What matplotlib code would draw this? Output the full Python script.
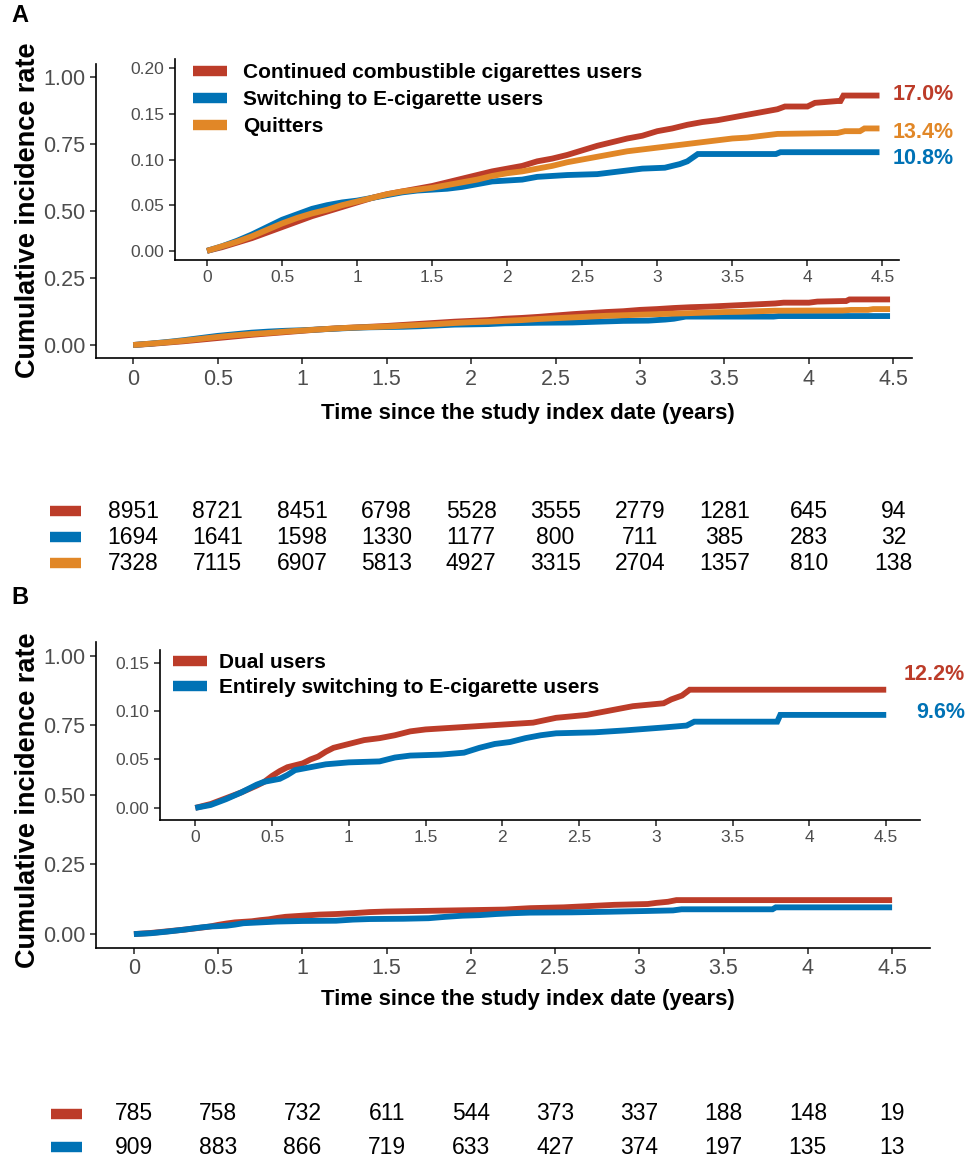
import numpy as np
import matplotlib
matplotlib.use("Agg")
import matplotlib.pyplot as plt
from matplotlib.lines import Line2D

plt.rcParams['font.family'] = ['Liberation Sans', 'DejaVu Sans']

# colours (NEJM-like palette)
RED = "#BC3C29"
BLUE = "#0072B5"
ORANGE = "#E18727"

# ---- panel A data (cumulative incidence) ----
a_cont_t = [0, 0.1, 0.2, 0.3, 0.4, 0.5, 0.6, 0.7, 0.8, 0.9, 1.0, 1.1, 1.2, 1.3, 1.4,
            1.5, 1.6, 1.7, 1.8, 1.9, 2.0, 2.1, 2.2, 2.3, 2.4, 2.5, 2.6, 2.7, 2.8, 2.9,
            3.0, 3.1, 3.2, 3.3, 3.4, 3.5, 3.6, 3.7, 3.8, 3.85, 4.0, 4.05, 4.2, 4.22,
            4.24, 4.48]
a_cont_v = [0, 0.004, 0.009, 0.014, 0.020, 0.026, 0.032, 0.038, 0.043, 0.048, 0.053,
            0.058, 0.062, 0.065, 0.068, 0.071, 0.075, 0.079, 0.083, 0.087, 0.090,
            0.093, 0.098, 0.101, 0.105, 0.110, 0.115, 0.119, 0.123, 0.126, 0.131,
            0.134, 0.138, 0.141, 0.143, 0.146, 0.149, 0.152, 0.155, 0.158, 0.158,
            0.162, 0.164, 0.164, 0.170, 0.170]

a_quit_t = [0, 0.1, 0.2, 0.3, 0.4, 0.5, 0.6, 0.7, 0.8, 0.9, 1.0, 1.1, 1.2, 1.3, 1.4,
            1.5, 1.6, 1.7, 1.8, 1.9, 2.0, 2.1, 2.2, 2.3, 2.4, 2.5, 2.6, 2.7, 2.8, 2.9,
            3.0, 3.1, 3.2, 3.3, 3.4, 3.5, 3.6, 3.7, 3.8, 4.2, 4.25, 4.35, 4.38, 4.48]
a_quit_v = [0, 0.005, 0.010, 0.016, 0.023, 0.030, 0.036, 0.041, 0.045, 0.050, 0.054,
            0.058, 0.062, 0.065, 0.067, 0.069, 0.072, 0.075, 0.078, 0.082, 0.085,
            0.087, 0.090, 0.093, 0.097, 0.100, 0.103, 0.106, 0.109, 0.111, 0.113,
            0.115, 0.117, 0.119, 0.121, 0.123, 0.124, 0.126, 0.128, 0.129, 0.131,
            0.131, 0.134, 0.134]

a_switch_t = [0, 0.1, 0.2, 0.3, 0.4, 0.5, 0.6, 0.7, 0.8, 0.9, 1.0, 1.1, 1.2, 1.3, 1.4,
              1.5, 1.6, 1.7, 1.8, 1.9, 2.0, 2.1, 2.2, 2.4, 2.6, 2.8, 2.9, 3.05, 3.15,
              3.2, 3.27, 3.79, 3.82, 4.48]
a_switch_v = [0, 0.005, 0.011, 0.018, 0.026, 0.034, 0.040, 0.046, 0.050, 0.053, 0.055,
              0.058, 0.061, 0.064, 0.066, 0.067, 0.068, 0.070, 0.073, 0.076, 0.077,
              0.078, 0.081, 0.083, 0.084, 0.088, 0.090, 0.091, 0.095, 0.098, 0.106,
              0.106, 0.108, 0.108]

a_labels = ["Continued combustible cigarettes users", "Switching to E-cigarette users", "Quitters"]
a_pct = ["17.0%", "13.4%", "10.8%"]

# number at risk, panel A
risk_times = [0, 0.5, 1, 1.5, 2, 2.5, 3, 3.5, 4, 4.5]
a_risk_cont = [8951, 8721, 8451, 6798, 5528, 3555, 2779, 1281, 645, 94]
a_risk_switch = [1694, 1641, 1598, 1330, 1177, 800, 711, 385, 283, 32]
a_risk_quit = [7328, 7115, 6907, 5813, 4927, 3315, 2704, 1357, 810, 138]

# ---- panel B data ----
b_dual_t = [0, 0.05, 0.1, 0.2, 0.3, 0.4, 0.45, 0.5, 0.55, 0.6, 0.7, 0.75, 0.8, 0.85, 0.9,
            1.0, 1.1, 1.2, 1.3, 1.4, 1.5, 1.7, 1.9, 2.0, 2.2, 2.35, 2.55, 2.65, 2.75,
            2.85, 3.05, 3.1, 3.17, 3.22, 4.5]
b_dual_v = [0, 0.002, 0.004, 0.010, 0.016, 0.023, 0.027, 0.033, 0.038, 0.042, 0.046,
            0.050, 0.053, 0.058, 0.062, 0.066, 0.070, 0.072, 0.075, 0.079, 0.081, 0.083,
            0.085, 0.086, 0.088, 0.093, 0.096, 0.099, 0.102, 0.105, 0.108, 0.112,
            0.116, 0.122, 0.122]

b_entire_t = [0, 0.1, 0.2, 0.3, 0.4, 0.45, 0.55, 0.6, 0.65, 0.75, 0.85, 1.0, 1.2, 1.3,
              1.4, 1.6, 1.75, 1.85, 1.95, 2.05, 2.15, 2.25, 2.35, 2.6, 2.8, 3.05, 3.2,
              3.25, 3.79, 3.81, 4.5]
b_entire_v = [0, 0.003, 0.009, 0.016, 0.024, 0.027, 0.030, 0.034, 0.039, 0.042, 0.045,
              0.047, 0.048, 0.052, 0.054, 0.055, 0.057, 0.062, 0.066, 0.068, 0.072,
              0.075, 0.077, 0.078, 0.080, 0.083, 0.085, 0.089, 0.089, 0.096, 0.096]

b_labels = ["Dual users", "Entirely switching to E-cigarette users"]
b_pct = ["12.2%", "9.6%"]

b_risk_dual = [785, 758, 732, 611, 544, 373, 337, 188, 148, 19]
b_risk_entire = [909, 883, 866, 719, 633, 427, 374, 197, 135, 13]

x_ticks = [0, 0.5, 1, 1.5, 2, 2.5, 3, 3.5, 4, 4.5]
x_ticklabels = ["0", "0.5", "1", "1.5", "2", "2.5", "3", "3.5", "4", "4.5"]

W, H = 967, 1164
fig = plt.figure(figsize=(W / 100, H / 100), dpi=100)


def box(left, right, top, bottom):
    # pixel box -> figure fraction rect
    return [left / W, 1 - bottom / H, (right - left) / W, (bottom - top) / H]


def style_axes(ax, fs):
    for s in ["top", "right"]:
        ax.spines[s].set_visible(False)
    for s in ["left", "bottom"]:
        ax.spines[s].set_linewidth(1.2)
    ax.tick_params(length=4, width=1.1, labelsize=fs, labelcolor="#4D4D4D", color="#222222")
    ax.set_xticks(x_ticks)
    ax.set_xticklabels(x_ticklabels)


def draw_curves(ax, series, lw):
    for t, v, c in series:
        ax.plot(t, v, color=c, lw=lw, solid_joinstyle="miter", solid_capstyle="butt")


# ================= Panel A =================
axA = fig.add_axes(box(96, 912, 63.6, 358.4))
seriesA = [(a_cont_t, a_cont_v, RED), (a_switch_t, a_switch_v, BLUE), (a_quit_t, a_quit_v, ORANGE)]
draw_curves(axA, seriesA, 4.2)
axA.set_xlim(-0.22, 4.61)
axA.set_ylim(-0.05, 1.05)
axA.set_yticks([0, 0.25, 0.5, 0.75, 1.0])
axA.set_yticklabels(["0.00", "0.25", "0.50", "0.75", "1.00"])
style_axes(axA, 15.5)

insA = fig.add_axes(box(175, 899, 59, 260))
draw_curves(insA, seriesA, 4.2)
insA.set_xlim(-0.213, 4.61)
insA.set_ylim(-0.01, 0.21)
insA.set_yticks([0, 0.05, 0.10, 0.15, 0.20])
insA.set_yticklabels(["0.00", "0.05", "0.10", "0.15", "0.20"])
style_axes(insA, 12.5)
insA.patch.set_alpha(0)

handlesA = [Line2D([], [], color=c, lw=7.5, solid_capstyle="butt") for c in (RED, BLUE, ORANGE)]
fig.legend(handlesA, a_labels, loc="upper left", bbox_to_anchor=(193 / W, 1 - 63 / H),
           frameon=False, borderpad=0, borderaxespad=0, handlelength=1.65,
           handletextpad=0.75, labelspacing=0.38, prop={"weight": "bold", "size": 15})

for txt, c, yp in zip(a_pct, (RED, ORANGE, BLUE), (95, 132, 158)):
    fig.text(893 / W, 1 - yp / H, txt, color=c, fontsize=15.5, fontweight="bold",
             ha="left", va="center")

fig.text(20 / W, 1 - 15 / H, "A", fontsize=17, fontweight="bold", ha="center", va="center")
fig.text(28 / W, 1 - 210 / H, "Cumulative incidence rate", rotation=90, fontsize=19.5,
         fontweight="bold", ha="center", va="center")
fig.text(528 / W, 1 - 413 / H, "Time since the study index date (years)", fontsize=16,
         fontweight="bold", ha="center", va="center")

# risk table A
tabA = fig.add_axes(box(96, 912, 498, 576))
tabA.set_xlim(-0.22, 4.61)
tabA.set_ylim(2.5, -0.5)
tabA.axis("off")
for i, (row, c) in enumerate(zip([a_risk_cont, a_risk_switch, a_risk_quit], (RED, BLUE, ORANGE))):
    tabA.plot([-0.49, -0.31], [i, i], color=c, lw=7.5, solid_capstyle="butt", clip_on=False)
    for t, n in zip(risk_times, row):
        tabA.text(t, i, str(n), ha="center", va="center", fontsize=16.5)

# ================= Panel B =================
axB = fig.add_axes(box(96, 930, 641.7, 948))
seriesB = [(b_dual_t, b_dual_v, RED), (b_entire_t, b_entire_v, BLUE)]
draw_curves(axB, seriesB, 4.2)
axB.set_xlim(-0.225, 4.725)
axB.set_ylim(-0.05, 1.05)
axB.set_yticks([0, 0.25, 0.5, 0.75, 1.0])
axB.set_yticklabels(["0.00", "0.25", "0.50", "0.75", "1.00"])
style_axes(axB, 15.5)

insB = fig.add_axes(box(160, 920, 650, 820))
draw_curves(insB, seriesB, 4.2)
insB.set_xlim(-0.23, 4.72)
insB.set_ylim(-0.0125, 0.163)
insB.set_yticks([0, 0.05, 0.10, 0.15])
insB.set_yticklabels(["0.00", "0.05", "0.10", "0.15"])
style_axes(insB, 12.5)
insB.patch.set_alpha(0)

handlesB = [Line2D([], [], color=c, lw=7.5, solid_capstyle="butt") for c in (RED, BLUE)]
fig.legend(handlesB, b_labels, loc="upper left", bbox_to_anchor=(173 / W, 1 - 653 / H),
           frameon=False, borderpad=0, borderaxespad=0, handlelength=1.65,
           handletextpad=0.55, labelspacing=0.3, prop={"weight": "bold", "size": 15})

for txt, c, yp in zip(b_pct, (RED, BLUE), (675, 713)):
    fig.text(965 / W, 1 - yp / H, txt, color=c, fontsize=15.5, fontweight="bold",
             ha="right", va="center")

fig.text(20 / W, 1 - 597 / H, "B", fontsize=17, fontweight="bold", ha="center", va="center")
fig.text(28 / W, 1 - 800 / H, "Cumulative incidence rate", rotation=90, fontsize=19.5,
         fontweight="bold", ha="center", va="center")
fig.text(528 / W, 1 - 1000 / H, "Time since the study index date (years)", fontsize=16,
         fontweight="bold", ha="center", va="center")

tabB = fig.add_axes(box(96, 930, 1097.5, 1163.5))
tabB.set_xlim(-0.225, 4.725)
tabB.set_ylim(1.5, -0.5)
tabB.axis("off")
for i, (row, c) in enumerate(zip([b_risk_dual, b_risk_entire], (RED, BLUE))):
    tabB.plot([-0.49, -0.31], [i, i], color=c, lw=7.5, solid_capstyle="butt", clip_on=False)
    for t, n in zip(risk_times, row):
        tabB.text(t, i, str(n), ha="center", va="center", fontsize=16.5)

fig.savefig("out.png", dpi=100)
